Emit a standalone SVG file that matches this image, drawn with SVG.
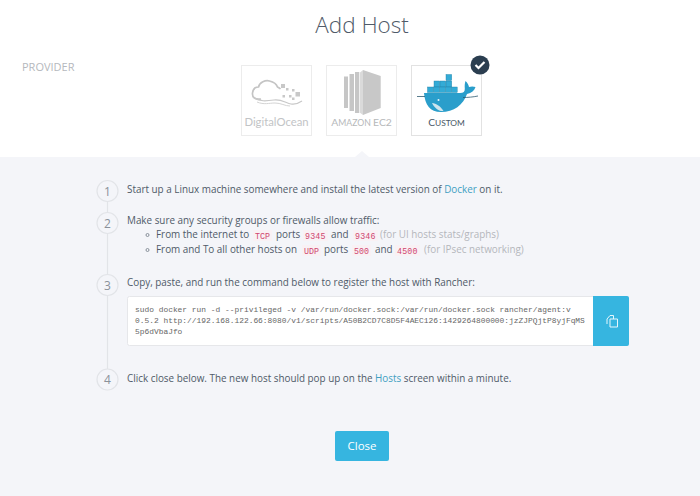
<svg xmlns="http://www.w3.org/2000/svg" width="700" height="496" viewBox="0 0 700 496">
<style>
text{font-family:"Open Sans","Liberation Sans",sans-serif;fill:#4f5a68}
.b{font-size:9.9px}
.m{font-family:"Liberation Mono",monospace;font-size:8.3px;fill:#d0466f}
.cmd{font-family:"Liberation Mono",monospace;font-size:7.9px;fill:#666}
.a{fill:#3f9fc2}
.g{fill:#b4b7bc}
.n{font-size:12px;text-anchor:middle;fill:#8a919a}
.card{fill:#fff;stroke:#ececec;stroke-width:1}
.circ{fill:#f4f5f9;stroke:#e2e4e8;stroke-width:1.2}
.chip{fill:#f9f1f4}
.lbl{font-family:Lato,sans-serif;text-anchor:middle}
.dot{fill:none;stroke:#7d8690;stroke-width:.9}
.cont{fill:#33abd6;stroke:#1f7fa6;stroke-width:.4}
</style>
<rect width="700" height="496" fill="#fff"/>
<rect y="157" width="700" height="339" fill="#f4f5f9"/>
<path d="M355 157l7-6 7 6z" fill="#f4f5f9"/>
<text x="362" y="33" text-anchor="middle" font-size="22.500" font-weight="300">Add Host</text>
<text x="22" y="71" font-size="11" style="fill:#b5b8bd">PROVIDER</text>

<g id="node-digitalocean">
<rect class="card" x="241.500" y="65.500" width="70" height="70"/>
<path d="M261 99c-6 1-9-2-8.500-6 .5-4 3-6 6-6 1-5 7-7 11-6 4 1 7 3 8 6 1 .5 2 1 3 2" fill="none" stroke="#c4c4c4" stroke-width="1.700"/>
<path d="M253 97c6 5 14 4 21 3s12 3 17 4 8-1 11-3" fill="none" stroke="#c8c8c8" stroke-width="1.200"/>
<path d="M257 102c7 3 12 1 18 1s10 3 15 3" fill="none" stroke="#d4d4d4" stroke-width="1"/>
<g fill="#c8c8c8"><rect x="281" y="84" width="4" height="4"/><rect x="286" y="88" width="2.500" height="2.500"/><rect x="292" y="89" width="2.500" height="2.500"/><rect x="295.500" y="92" width="4.500" height="4.500"/><rect x="282.500" y="95" width="2.500" height="2.500"/><rect x="289" y="95" width="2.500" height="2.500"/><rect x="292" y="97.500" width="2.500" height="2.500"/></g>
<text class="lbl" x="276.500" y="126" font-size="11.300" style="fill:#c2c4c6">DigitalOcean</text>
</g>

<g id="node-ec2">
<rect class="card" x="326.500" y="65.500" width="70" height="70"/>
<g fill="#c6c6c6"><rect x="344" y="76.500" width="4" height="31.500"/><rect x="349.500" y="74" width="4.500" height="37"/><rect x="355" y="72" width="4.300" height="41"/></g>
<path d="M363 70l17.700 6v32l-17.700 7z" fill="#c8c8c8"/>
<path d="M360 72.500l3-2.500v45l-3-2.300z" fill="#dadada"/>
<text class="lbl" x="361.500" y="126" font-size="8.700" style="fill:#b6b8ba"><tspan font-size="10.400">A</tspan>MAZON <tspan font-size="10.400">EC2</tspan></text>
</g>

<g id="node-custom">
<rect x="411.500" y="65.500" width="70" height="70" fill="#fff" stroke="#e2e2e2"/>
<rect class="cont" x="446" y="74.500" width="5.700" height="6"/>
<rect class="cont" x="434" y="81" width="5.700" height="6"/><rect class="cont" x="440" y="81" width="5.700" height="6"/><rect class="cont" x="446" y="81" width="5.700" height="6"/>
<rect class="cont" x="427.500" y="87" width="5.700" height="5.500"/><rect class="cont" x="433.500" y="87" width="5.700" height="5.500"/><rect class="cont" x="439.500" y="87" width="5.700" height="5.500"/><rect class="cont" x="445.500" y="87" width="5.700" height="5.500"/><rect class="cont" x="451.500" y="87" width="5.700" height="5.500"/>
<path d="M424 93h36c3.500 0 5-1.500 4.800-4.500-.2-2.500-.1-5.500.7-7.500 1.800 1.500 3 3.500 3.500 6 2-.8 4.500-.8 6.500 0-1 3.500-4 6-8.500 7-4 11-13 18-26 18-11 0-16-7-17-19z" fill="#2a9ecb"/>
<path d="M432 103c4 .5 9 3.500 11.500 8-5 .5-9-3-11.500-8z" fill="#cfe5ee"/>
<path d="M417 96.500h8M463 97.500c5 0 10-.5 15-1.500" stroke="#2f5a70" stroke-width=".8" fill="none"/>
<circle cx="438.500" cy="100" r="1" fill="#e8f5fa"/>
<text class="lbl" x="446.500" y="126" font-size="8.400" style="fill:#4a5866"><tspan font-size="10.200">C</tspan>USTOM</text>
<circle cx="480" cy="65" r="9.500" fill="#2b3e50"/>
<path d="M475.500 65l3 3 6-6" fill="none" stroke="#fff" stroke-width="2.200"/>
</g>

<g id="connectors">
<path d="M107.500 190V380" stroke="#e2e4e8" stroke-width="1.200" fill="none"/>
</g>

<g id="step-1">
<circle class="circ" cx="107.500" cy="191" r="10.500"/>
<text class="n" x="107.500" y="196">1</text>
<text class="b" x="127" y="192.500">Start up a Linux machine somewhere and install the latest version of <tspan class="a">Docker</tspan> on it.</text>
</g>

<g id="step-2">
<circle class="circ" cx="107.500" cy="223" r="10.500"/>
<text class="n" x="107.500" y="227.500">2</text>
<text class="b" x="127" y="224">Make sure any security groups or firewalls allow traffic:</text>
<circle class="dot" cx="147.500" cy="235" r="1.500"/>
<text class="b" x="156" y="238">From the internet to</text>
<rect class="chip" x="253" y="230" width="19" height="11"/>
<text class="m" x="255" y="238.500">TCP</text>
<text class="b" x="276" y="238">ports</text>
<rect class="chip" x="303" y="230" width="25" height="11"/>
<text class="m" x="305" y="238.500" letter-spacing=".2">9345</text>
<text class="b" x="331" y="238">and</text>
<rect class="chip" x="353" y="230" width="25" height="11"/>
<text class="m" x="355" y="238.500" letter-spacing=".2">9346</text>
<text class="b g" x="380" y="238">(for UI hosts stats/graphs)</text>
<circle class="dot" cx="147.500" cy="250" r="1.500"/>
<text class="b" x="156" y="253">From and To all other hosts on</text>
<rect class="chip" x="302" y="245" width="19" height="11"/>
<text class="m" x="304" y="253.500">UDP</text>
<text class="b" x="324" y="253">ports</text>
<rect class="chip" x="352" y="245" width="19" height="11"/>
<text class="m" x="354" y="253.500">500</text>
<text class="b" x="375" y="253">and</text>
<rect class="chip" x="395" y="245" width="25" height="11"/>
<text class="m" x="397" y="253.500" letter-spacing=".2">4500</text>
<text class="b g" x="424" y="253">(for IPsec networking)</text>
</g>

<g id="step-3">
<circle class="circ" cx="107.500" cy="285" r="10.500"/>
<text class="n" x="107.500" y="289.500">3</text>
<text class="b" x="127" y="286">Copy, paste, and run the command below to register the host with Rancher:</text>
<rect x="127.500" y="296.500" width="501" height="49" rx="2" fill="#fff" stroke="#e6e7ea"/>
<text class="cmd" x="135" y="311.500">sudo docker run -d --privileged -v /var/run/docker.sock:/var/run/docker.sock rancher/agent:v</text>
<text class="cmd" x="135" y="323">0.5.2 http://192.168.122.66:8080/v1/scripts/A50B2CD7C8D5F4AEC126:1429264800000:jzZJPQjtP8yjFqMS</text>
<text class="cmd" x="135" y="334">5p6dVbaJfo</text>
<path d="M593 296h34a2 2 0 0 1 2 2v46a2 2 0 0 1-2 2h-34z" fill="#36b5e0"/>
<g fill="none" stroke="#e6f6fc" stroke-width="1"><path d="M607 324v-5l3-3.500h3.500v3.500"/><path d="M610 319h7.500v8h-7.500z"/></g>
</g>

<g id="step-4">
<circle class="circ" cx="107.500" cy="379.500" r="10.500"/>
<text class="n" x="107.500" y="384">4</text>
<text class="b" x="127" y="381.500">Click close below. The new host should pop up on the <tspan class="a">Hosts</tspan> screen within a minute.</text>
</g>

<g id="close-button">
<rect x="335" y="431" width="54" height="30" rx="2" fill="#36b5e0"/>
<text x="362" y="450" text-anchor="middle" font-size="11.500" style="fill:#fff">Close</text>
</g>
</svg>
